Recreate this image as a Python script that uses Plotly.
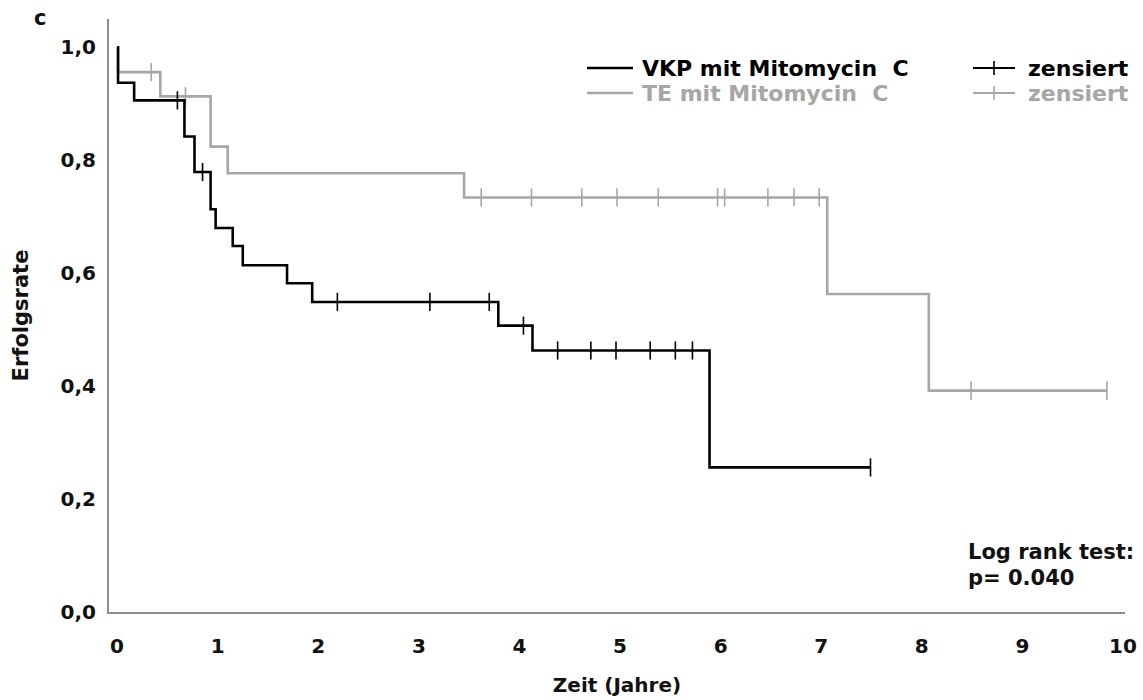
import numpy as np
import plotly.graph_objects as go

# ---- data ----
vkp_times = [0, 0.01, 0.17, 0.67, 0.77, 0.93, 0.98, 1.15, 1.25, 1.69, 1.94, 3.79, 4.13, 5.89, 7.49]
vkp_surv = [1.0, 0.937, 0.906, 0.842, 0.779, 0.713, 0.680, 0.648, 0.614, 0.582, 0.549, 0.507, 0.463, 0.256, 0.256]
vkp_censored = [0.60, 0.85, 2.19, 3.11, 3.70, 4.04, 4.38, 4.71, 4.96, 5.30, 5.55, 5.72, 7.49]

te_times = [0, 0.01, 0.43, 0.93, 1.10, 3.45, 7.06, 8.07, 9.84]
te_surv = [1.0, 0.956, 0.913, 0.824, 0.777, 0.734, 0.563, 0.392, 0.392]
te_censored = [0.34, 0.68, 3.62, 4.12, 4.62, 4.97, 5.38, 5.97, 6.04, 6.47, 6.73, 6.98, 8.49, 9.84]

y_ticks = [0.0, 0.2, 0.4, 0.6, 0.8, 1.0]
y_ticktext = ["0,0", "0,2", "0,4", "0,6", "0,8", "1,0"]
x_ticks = list(range(0, 11))

BLACK = "#000000"
GREY = "#a6a6a6"
AXIS = "#8c8c8c"
FONT = "DejaVu Sans"


def surv_at(times, surv, t):
    idx = np.searchsorted(np.array(times), t, side="right") - 1
    return [surv[i] for i in idx]


fig = go.Figure()

for times, surv, cens, col in [
    (te_times, te_surv, te_censored, GREY),
    (vkp_times, vkp_surv, vkp_censored, BLACK),
]:
    fig.add_trace(go.Scatter(x=times, y=surv, mode="lines", line=dict(color=col, width=2.6, shape="hv"),
                             showlegend=False, hoverinfo="skip"))
    fig.add_trace(go.Scatter(x=cens, y=surv_at(times, surv, cens), mode="markers",
                             marker=dict(symbol="line-ns", size=13, line=dict(color=col, width=1.6)),
                             showlegend=False, hoverinfo="skip"))

# ---- layout geometry in pixels ----
L, R, T, B = 109, 1125, 19, 612
W, H = 1143, 700


def px(x):
    return (x - L) / (R - L)


def py(y):
    return (B - y) / (B - T)


shapes = []
annotations = []

legend_rows = [
    ("VKP mit Mitomycin\u00a0\u00a0C", BLACK, 68),
    ("TE mit Mitomycin\u00a0\u00a0C", GREY, 93),
]
for label, col, yy in legend_rows:
    shapes.append(dict(type="line", xref="paper", yref="paper", x0=px(587), x1=px(633), y0=py(yy), y1=py(yy),
                       line=dict(color=col, width=2.6)))
    annotations.append(dict(xref="paper", yref="paper", x=px(640), y=py(yy), xanchor="left", yanchor="middle",
                            text=label, showarrow=False,
                            font=dict(family=FONT, size=22, color=col, weight="bold")))
    shapes.append(dict(type="line", xref="paper", yref="paper", x0=px(973), x1=px(1015), y0=py(yy), y1=py(yy),
                       line=dict(color=col, width=2)))
    shapes.append(dict(type="line", xref="paper", yref="paper", x0=px(994), x1=px(994), y0=py(yy - 7), y1=py(yy + 7),
                       line=dict(color=col, width=1.6)))
    annotations.append(dict(xref="paper", yref="paper", x=px(1026), y=py(yy), xanchor="left", yanchor="middle",
                            text="zensiert", showarrow=False,
                            font=dict(family=FONT, size=22, color=col, weight="bold")))

annotations.append(dict(xref="paper", yref="paper", x=px(966), y=py(552), xanchor="left", yanchor="middle",
                        text="Log rank test:", showarrow=False,
                        font=dict(family=FONT, size=21, color="#111111", weight="bold")))
annotations.append(dict(xref="paper", yref="paper", x=px(966), y=py(578), xanchor="left", yanchor="middle",
                        text="p= 0.040", showarrow=False,
                        font=dict(family=FONT, size=21, color="#111111", weight="bold")))
annotations.append(dict(xref="paper", yref="paper", x=px(40), y=py(18), xanchor="center", yanchor="middle",
                        text="c", showarrow=False,
                        font=dict(family=FONT, size=21, color="#111111", weight="bold")))

fig.update_layout(
    width=W, height=H,
    margin=dict(l=L, r=W - R, t=T, b=H - B, autoexpand=False),
    paper_bgcolor="white", plot_bgcolor="white",
    shapes=shapes, annotations=annotations,
    font=dict(family=FONT, color="#111111"),
)
fig.update_xaxes(range=[-0.08, 10.02], showgrid=False, zeroline=False, showline=True, linecolor=AXIS, linewidth=2,
                 tickvals=x_ticks, ticks="", ticklabelstandoff=15,
                 tickfont=dict(family=FONT, size=20, color="#111111", weight="bold"),
                 title=dict(text="Zeit (Jahre)", standoff=21,
                            font=dict(family=FONT, size=20, color="#111111", weight="bold")))
fig.update_yaxes(range=[0, 1.05], showgrid=False, zeroline=False, showline=True, linecolor=AXIS, linewidth=2,
                 tickvals=y_ticks, ticktext=y_ticktext, ticks="", ticklabelstandoff=7,
                 tickfont=dict(family=FONT, size=20, color="#111111", weight="bold"),
                 title=dict(text="Erfolgsrate", standoff=26,
                            font=dict(family=FONT, size=21, color="#111111", weight="bold")))

fig.write_html("out.html", config={"displayModeBar": False},
               post_script="document.body.style.margin='0';document.body.style.padding='0';")
